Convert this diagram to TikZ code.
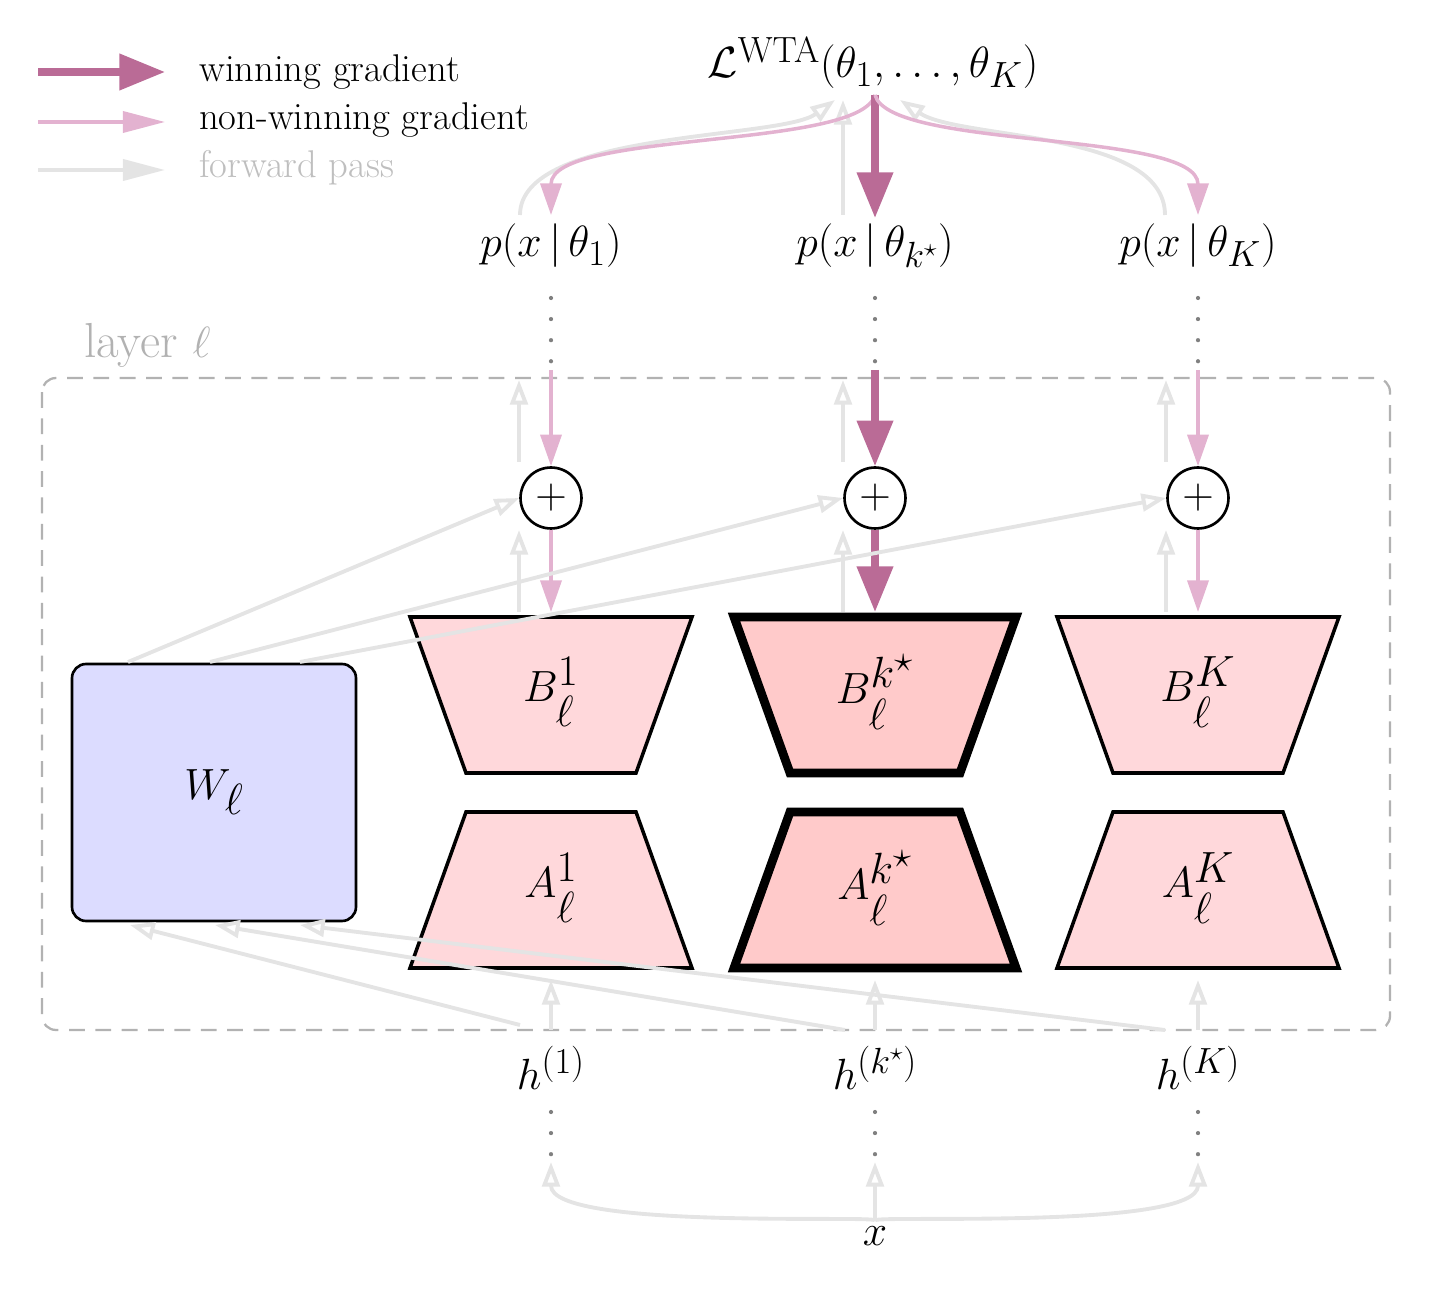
\documentclass[tikz,border=0pt]{standalone}
\usepackage{amsmath,amssymb}
\usetikzlibrary{arrows.meta,positioning}
\definecolor{win}{HTML}{BA6B96}
\definecolor{nonwin}{HTML}{E3B2D0}
\definecolor{fwd}{HTML}{E4E4E4}
\definecolor{lowfill}{HTML}{FFD8DB}
\definecolor{hifill}{HTML}{FFCACA}
\definecolor{wfill}{HTML}{DCDCFF}
\tikzset{
  fwdarr/.style={draw=fwd,line width=2.2pt,-{Triangle[open,length=14pt,width=10pt]}},
  nwarr/.style={draw=nonwin,line width=2pt,-{Triangle[length=18pt,width=12pt]}},
  warr/.style={draw=win,line width=4pt,-{Triangle[length=26pt,width=20pt]}},
  dots/.style={draw=gray,line width=2.4pt,dash pattern=on 0pt off 12pt,line cap=round},
  lbl/.style={font=\fontsize{28}{32}\selectfont},
  leg/.style={font=\fontsize{22}{26}\selectfont,anchor=west},
  big/.style={font=\fontsize{40}{44}\selectfont},
  oplus/.style={circle,draw,line width=1.5pt,minimum size=34.7pt,inner sep=0pt,fill=white,font=\fontsize{30}{30}\selectfont}
}
\begin{document}
\begin{tikzpicture}[x=0.02cm,y=-0.02cm]
\useasboundingbox (0,0) rectangle (1431,1290);
% legend
\draw[warr] (38,72) -- (165,72);
\draw[nonwin,line width=2pt,-{Triangle[length=24pt,width=12pt]}] (38,122) -- (165,122);
\draw[fwd,line width=2.2pt,-{Triangle[length=24pt,width=12pt]}] (38,170) -- (165,170);
\node[leg] at (193,72) {winning gradient};
\node[leg] at (193,120) {non-winning gradient};
\node[leg,text=black!25] at (193,168) {forward pass};
% layer box
\draw[black!30,line width=1.3pt,dash pattern=on 9pt off 6pt,rounded corners=8pt] (42,378) rectangle (1390,1030);
\node[lbl,text=black!30,anchor=west] at (78,345) {layer $\ell$};
% loss
\node[lbl] (loss) at (873,63) {$\mathcal{L}^{\mathrm{WTA}}(\theta_1,\dots,\theta_K)$};
\coordinate (ls) at (875,95);
% W
\draw[fill=wfill,draw=black,line width=1.5pt,rounded corners=8pt] (72,664) rectangle (356,921);
\node[big] (W) at (214,792) {$W_\ell$};
\node[lbl] (x) at (875,1236) {$x$};
% columns
\foreach \cx/\nm/\sup/\lw/\fl/\pth/\gst in {551/one/1/2pt/lowfill/\theta_1/nwarr,875/star/k^\star/5pt/hifill/\theta_{k^\star}/warr,1198/K/K/2pt/lowfill/\theta_K/nwarr}{
  \node[lbl] (p\nm) at (\cx,246) {$p(x\,|\,\pth)$};
  \node[oplus] (o\nm) at (\cx,498) {$+$};
  \filldraw[fill=\fl,draw=black,line width=\lw,line join=miter] (\cx-141,617) -- (\cx+141,617) -- (\cx+85,773) -- (\cx-85,773) -- cycle;
  \node[big] (B\nm) at (\cx,692) {$B_\ell^{\sup}$};
  \filldraw[fill=\fl,draw=black,line width=\lw,line join=miter] (\cx-85,812) -- (\cx+85,812) -- (\cx+141,968) -- (\cx-141,968) -- cycle;
  \node[big] (A\nm) at (\cx,888) {$A_\ell^{\sup}$};
  \node[lbl] (h\nm) at (\cx,1068) {$h^{(\sup)}$};
  \draw[dots] (\cx,298) -- (\cx,368);
  \draw[dots] (\cx,1112) -- (\cx,1158);
  % forward pass
  \draw[fwdarr] (\cx,1030) -- (\cx,980);
  \draw[fwdarr] (\cx-32,612) -- (\cx-32,530);
  \draw[fwdarr] (\cx-32,462) -- (\cx-32,380);
  \draw[fwdarr] (x.north) .. controls (875,1215) and (\cx,1230) .. (\cx,1162);
  % gradients
  \draw[\gst] (\cx,370) -- (o\nm.north);
  \draw[\gst] (o\nm.south) -- (\cx,612);
}
% forward from W to oplus
\draw[fwdarr] (128,662) -- (oone.west);
\draw[fwdarr] (210,662) -- (ostar.west);
\draw[fwdarr] (300,662) -- (oK.west);
% forward from h to W
\draw[fwdarr] (520,1025) -- (130,925);
\draw[fwdarr] (845,1030) -- (215,925);
\draw[fwdarr] (1165,1030) -- (300,925);
% forward to loss
\draw[fwdarr] (520,215) .. controls (520,130) and (780,140) .. (835,100);
\draw[fwdarr] (843,215) -- (843,100);
\draw[fwdarr] (1165,215) .. controls (1165,130) and (960,140) .. (900,100);
% gradients from loss
\draw[nwarr] (ls) .. controls (860,150) and (551,130) .. (551,215);
\draw[warr] (ls) -- (pstar.north);
\draw[nwarr] (ls) .. controls (890,150) and (1198,130) .. (1198,215);
\end{tikzpicture}
\end{document}
